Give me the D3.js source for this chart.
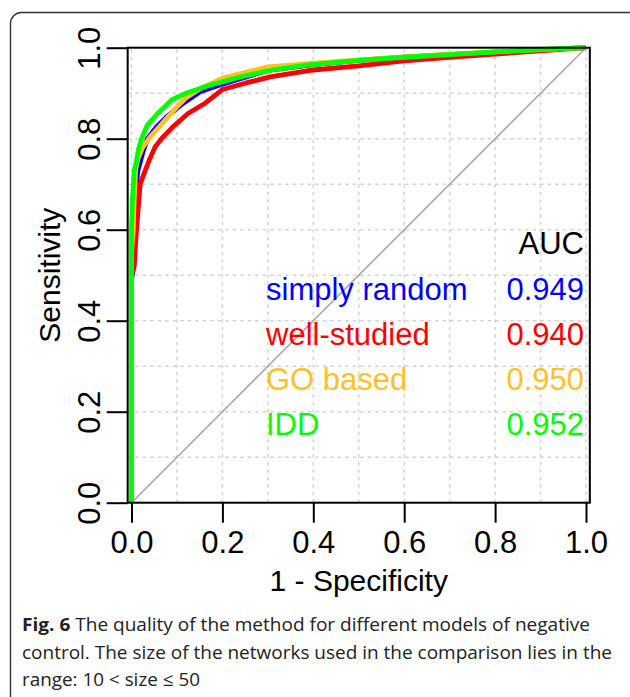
<!DOCTYPE html>
<html>
<head>
<meta charset="utf-8">
<script src="https://cdn.jsdelivr.net/npm/d3@7"></script>
<style>
  body { margin: 0; background: #fff; }
  svg { display: block; }
</style>
</head>
<body>
<script>
// metrics
const width = 630, height = 697;
const plotLeft = 131.5, plotRight = 586, plotTop = 47.7, plotBottom = 502.7;

// data: ROC curves (false positive rate, true positive rate)
const fprRandom = [0, 0, 0.005, 0.007, 0.009, 0.014, 0.025, 0.035, 0.055, 0.077, 0.11, 0.151, 0.173, 0.2, 0.3, 0.4, 0.5, 0.6, 0.7, 0.8, 0.9, 1];
const tprRandom = [0, 0.49, 0.52, 0.6, 0.68, 0.73, 0.77, 0.8, 0.826, 0.848, 0.875, 0.903, 0.911, 0.92, 0.95, 0.963, 0.972, 0.979, 0.985, 0.99, 0.995, 1];

const fprWell = [0, 0, 0.006, 0.008, 0.011, 0.015, 0.019, 0.03, 0.04, 0.052, 0.066, 0.09, 0.125, 0.162, 0.2, 0.25, 0.305, 0.4, 0.5, 0.6, 0.7, 0.8, 0.9, 1];
const tprWell = [0, 0.5, 0.52, 0.555, 0.6, 0.65, 0.7, 0.73, 0.755, 0.782, 0.8, 0.825, 0.856, 0.878, 0.908, 0.922, 0.936, 0.951, 0.96, 0.971, 0.979, 0.986, 0.993, 1];

const fprGO = [0, 0, 0.004, 0.005, 0.007, 0.009, 0.014, 0.024, 0.041, 0.06, 0.08, 0.1, 0.12, 0.151, 0.187, 0.2, 0.3, 0.4, 0.5, 0.6, 0.7, 0.8, 0.9, 1];
const tprGO = [0, 0.55, 0.6, 0.643, 0.687, 0.731, 0.755, 0.78, 0.804, 0.825, 0.848, 0.87, 0.89, 0.91, 0.927, 0.933, 0.958, 0.966, 0.973, 0.98, 0.986, 0.991, 0.996, 1];

const fprIDD = [0, 0, 0.002, 0.006, 0.011, 0.015, 0.022, 0.035, 0.058, 0.075, 0.088, 0.12, 0.173, 0.2, 0.24, 0.31, 0.39, 0.5, 0.6, 0.7, 0.8, 0.9, 1];
const tprIDD = [0, 0.6, 0.665, 0.731, 0.75, 0.775, 0.8, 0.83, 0.856, 0.872, 0.885, 0.9, 0.918, 0.925, 0.936, 0.951, 0.962, 0.972, 0.979, 0.985, 0.991, 0.996, 1];

// legend
const modelNames = ["simply random", "well-studied", "GO based", "IDD"];
const aucValues = ["0.949", "0.940", "0.950", "0.952"];

// ticks
const axisTicks = [0, 0.2, 0.4, 0.6, 0.8, 1.0];
const gridTicks = [0, 0.1, 0.2, 0.3, 0.4, 0.5, 0.6, 0.7, 0.8, 0.9, 1.0];

// caption
const captionLines = [
    ["Fig. 6", " The quality of the method for different models of negative"],
    ["", "control. The size of the networks used in the comparison lies in the"],
    ["", "range: 10 < size \u2264 50"]
];

// styles
const colors = ["#0000ff", "#ff0000", "#ffc125", "#00ff00"];
const plotFont = "'Liberation Sans', Arial, sans-serif";

const series = [
    d3.zip(fprRandom, tprRandom),
    d3.zip(fprWell, tprWell),
    d3.zip(fprGO, tprGO),
    d3.zip(fprIDD, tprIDD)
];

// scales
const xScale = d3.scaleLinear().domain([0, 1]).range([plotLeft, plotRight]);
const yScale = d3.scaleLinear().domain([0, 1]).range([plotBottom, plotTop]);
const pad = 0.0084;

const svg = d3.select('body').append('svg')
    .attr('width', width)
    .attr('height', height);

// outer frame
svg.append('rect')
    .attr('x', 10.5).attr('y', 12.5)
    .attr('width', 640).attr('height', 700)
    .attr('rx', 11)
    .attr('fill', 'none')
    .attr('stroke', '#333')
    .attr('stroke-width', 1.4);

// grid
const grid = svg.append('g')
    .attr('stroke', '#d3d3d3')
    .attr('stroke-width', 1.5)
    .attr('stroke-dasharray', '3.5,4');
grid.selectAll('.gx').data(gridTicks).join('line')
    .attr('x1', d => xScale(d)).attr('x2', d => xScale(d))
    .attr('y1', yScale(0)).attr('y2', yScale(1));
grid.selectAll('.gy').data(gridTicks).join('line')
    .attr('x1', xScale(-pad)).attr('x2', xScale(1 + pad))
    .attr('y1', d => yScale(d)).attr('y2', d => yScale(d));

// diagonal
svg.append('line')
    .attr('x1', xScale(0)).attr('y1', yScale(0))
    .attr('x2', xScale(1)).attr('y2', yScale(1))
    .attr('stroke', '#a6a6a6')
    .attr('stroke-width', 1.6);

// roc curves
const line = d3.line()
    .x(d => xScale(d[0]))
    .y(d => yScale(d[1]));
svg.selectAll('.roc').data(series).join('path')
    .attr('d', line)
    .attr('fill', 'none')
    .attr('stroke', (d, i) => colors[i])
    .attr('stroke-width', 4.8)
    .attr('stroke-linejoin', 'round');

// box
svg.append('rect')
    .attr('x', xScale(-pad)).attr('y', yScale(1))
    .attr('width', xScale(1 + pad) - xScale(-pad))
    .attr('height', yScale(0) - yScale(1))
    .attr('fill', 'none')
    .attr('stroke', '#000')
    .attr('stroke-width', 2);

// x axis
const xAxis = svg.append('g')
    .attr('transform', `translate(0, ${yScale(0)})`)
    .call(d3.axisBottom(xScale).tickValues(axisTicks).tickFormat(d3.format('.1f')).tickSize(20).tickPadding(10));
xAxis.select('.domain').remove();
xAxis.selectAll('line').attr('stroke', '#000').attr('stroke-width', 2);
xAxis.selectAll('text')
    .attr('font-family', plotFont)
    .attr('font-size', 31)
    .attr('fill', '#000')
    .attr('dy', null)
    .attr('y', 50);

// y axis
const yAxis = svg.append('g')
    .attr('transform', `translate(${xScale(-pad)}, 0)`)
    .call(d3.axisLeft(yScale).tickValues(axisTicks).tickFormat(d3.format('.1f')).tickSize(21));
yAxis.select('.domain').remove();
yAxis.selectAll('line').attr('stroke', '#000').attr('stroke-width', 2);
yAxis.selectAll('text')
    .attr('font-family', plotFont)
    .attr('font-size', 31)
    .attr('fill', '#000')
    .attr('x', null).attr('dy', null)
    .attr('text-anchor', 'middle')
    .attr('transform', `translate(${100 - xScale(-pad)}, 0) rotate(-90)`);

// axis titles
svg.append('text')
    .attr('x', (plotLeft + plotRight) / 2).attr('y', 591)
    .attr('text-anchor', 'middle')
    .attr('font-family', plotFont)
    .attr('font-size', 30)
    .text('1 - Specificity');
svg.append('text')
    .attr('transform', `translate(60, ${yScale(0.5)}) rotate(-90)`)
    .attr('text-anchor', 'middle')
    .attr('font-family', plotFont)
    .attr('font-size', 30)
    .text('Sensitivity');

// legend
const legend = svg.append('g')
    .attr('font-family', plotFont)
    .attr('font-size', 31);
legend.append('text')
    .attr('x', 584).attr('y', 253.5)
    .attr('text-anchor', 'end')
    .text('AUC');
legend.selectAll('.name').data(modelNames).join('text')
    .attr('x', 266).attr('y', (d, i) => 299.5 + i * 45.3)
    .attr('fill', (d, i) => colors[i])
    .text(d => d);
legend.selectAll('.auc').data(aucValues).join('text')
    .attr('x', 584).attr('y', (d, i) => 299.5 + i * 45.3)
    .attr('text-anchor', 'end')
    .attr('fill', (d, i) => colors[i])
    .text(d => d);

// caption
const captionWidths = [568, 590, 178];
const caption = svg.append('g')
    .attr('font-family', "'Open Sans', 'Noto Sans', sans-serif")
    .attr('font-size', 18)
    .attr('fill', '#222');
captionLines.forEach((parts, i) => {
    const t = caption.append('text')
        .attr('x', 22).attr('y', 631 + i * 27.5)
        .attr('textLength', captionWidths[i])
        .attr('lengthAdjust', 'spacingAndGlyphs');
    if (parts[0]) t.append('tspan').attr('font-weight', 'bold').text(parts[0]);
    t.append('tspan').text(parts[1]);
});
</script>
</body>
</html>
